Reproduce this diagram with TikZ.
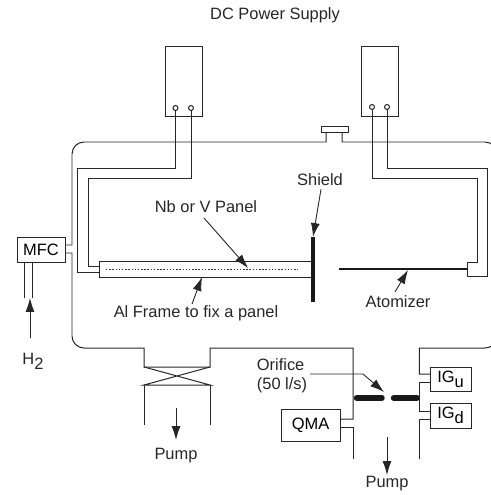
\documentclass[tikz,border=0pt]{standalone}
\usepackage{fontspec}
\setmainfont{Liberation Sans}
\usepackage{tikz}
\usetikzlibrary{arrows.meta,positioning,calc}

\newcommand{\lowered}[1]{\raisebox{-5pt}{#1}}

\begin{document}
\begin{tikzpicture}[
  x=1bp, y=-1bp,
  font=\fontsize{16.5pt}{19pt}\selectfont,
  wire/.style={line width=1pt, black!85},
  box/.style={draw=black!85, line width=1pt, inner sep=0pt, fill=white},
  terminal/.style={circle, draw=black!85, line width=1pt, inner sep=0pt, minimum size=5pt, fill=white},
  arrow/.style={-{Latex[length=14pt,width=9pt]}, line width=0.9pt, black!85},
  label/.style={inner sep=0pt, text=black!85, align=center},
  thick bar/.style={line width=3.2pt, black!90}
]
\useasboundingbox (0,0) rectangle (491,495);

% vacuum chamber
\clip (0,0) rectangle (491,495);
\coordinate (wallA) at (72,245);
\coordinate (wallB) at (72,253);
\draw[wire] (65,245) -- (wallA) -- (72,154) arc[start angle=180, end angle=90, x radius=12, y radius=-12]
  -- (326,142) -- (326,132) -- (342,132) -- (342,142) -- (485,142) arc[start angle=90, end angle=40, x radius=12, y radius=-12];
\draw[wire] (65,253) -- (wallB) -- (72,336) arc[start angle=180, end angle=270, x radius=12, y radius=-12]
  -- (144,348) -- (144,367) -- (210,367) -- (210,348) -- (353,348) -- (353,419) -- (340,419);
\draw[wire] (144,367) -- (210,385) -- (144,385) -- (210,367);
\draw[wire] (144,385) -- (144,425);
\draw[wire] (210,385) -- (210,425);
\node[box, minimum width=27bp, minimum height=6bp] (port) at (334.5,129) {};

% power supplies
\node[box, minimum width=37bp, minimum height=69bp] (supplyL) at (183.5,81.5) {};
\node[box, minimum width=37bp, minimum height=69bp] (supplyR) at (379.5,81.5) {};
\node[label] (title) at (275,15) {DC Power Supply};

% panel and shield
\node[box, minimum width=214bp, minimum height=16bp] (frame) at (206,269) {};
\draw[line width=1pt, black!80, dash pattern=on 1.5pt off 1.7pt] (106,269) -- (298,269);
\coordinate (shieldtop) at (313,237);
\coordinate (shieldend) at (313,302);
\draw[thick bar] (shieldtop) -- (shieldend);

\draw[wire] (175.5,108) -- (175.5,168) -- (77.5,168) -- (77.5,272) -- (99,272);
\draw[wire] (191,108) -- (191,178) -- (88,178) -- (88,266) -- (99,266);
\draw[wire] (372,107) -- (372,178) -- (477,178) -- (477,262) -- (467,262) -- (467,276) -- (487,276) -- (487,168) -- (387,168) -- (387,107);
\node[terminal] (termA) at (175.5,108) {};
\node[terminal] (termB) at (191,108) {};
\node[terminal] (termC) at (372,107) {};
\node[terminal] (termD) at (387,107) {};

% atomizer
\coordinate (atomL) at (339,269);
\coordinate (atomR) at (468,269);
\draw[line width=2.8pt, black!90] (atomL) -- (atomR);

% MFC and gas line
\node[box, minimum width=48bp, minimum height=25bp] (mfc) at (41,249.5) {MFC};
\draw[wire] (24.5,262) -- (24.5,298);
\draw[wire] (32.7,262) -- (32.7,298);
\node[label] (hydrogen) at (33,361) {H\lowered{2}};
\coordinate (gasin) at (30,298);
\draw[arrow] (30,338) -- (gasin);

% labels
\node[label] (shield) at (320,180) {Shield};
\node[label] (panel) at (206,207) {Nb or V Panel};
\node[label] (alframe) at (196,313) {Al Frame to fix a panel};
\node[label] (atomizer) at (398,302) {Atomizer};
\draw[arrow] (shield.south) ++(1,3) -- (shieldtop);
\coordinate (panelpt) at (248,268);
\draw[arrow] (204,218) -- (panelpt);
\coordinate (framept) at (202,277);
\draw[arrow] (192,304) -- (framept);
\coordinate (atompt) at (408,270);
\draw[arrow] (395,292) -- (atompt);

% pumping line
\draw[wire] (419.3,459) -- (419.3,419) -- (430,419);
\draw[wire] (430,411) -- (419.3,411) -- (419.3,382) -- (430,382);
\draw[wire] (430,374) -- (419.3,374) -- (419.3,348) -- (485,348) arc[start angle=270, end angle=310, x radius=12, y radius=-12];
\draw[wire] (340,427) -- (353,427) -- (353,459);
\node[box, minimum width=59bp, minimum height=32bp] (qma) at (310.5,425) {QMA};
\node[box, minimum width=41bp, minimum height=24bp] (igu) at (450.5,379) {IG\lowered{u}};
\node[box, minimum width=41bp, minimum height=25bp] (igd) at (450.5,415.5) {IG\lowered{d}};

% orifice
\draw[line width=5.4pt, line cap=round, black!90] (356.5,398) -- (382,398);
\draw[line width=5.4pt, line cap=round, black!90] (393.5,398) -- (417,398);
\node[label, align=left] (orifice) at (282,376) {Orifice\\(50 l/s)};
\coordinate (orificept) at (384,392);
\draw[arrow] (310,374) -- (363,374) -- (orificept);

% pumps
\node[label] (pumpL) at (176,456) {Pump};
\node[label] (pumpR) at (387,484) {Pump};
\coordinate (pumpLa) at (176,408);
\coordinate (pumpRa) at (387,437);
\draw[arrow] (pumpLa) -- (176,440);
\draw[arrow] (pumpRa) -- (387,475);
\end{tikzpicture}
\end{document}
